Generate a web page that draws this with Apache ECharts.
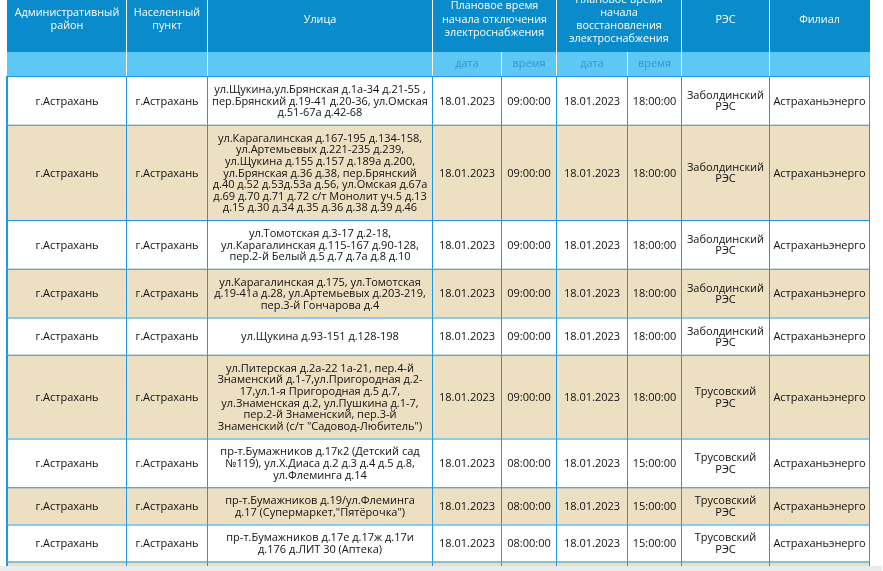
<!DOCTYPE html>
<html><head><meta charset="utf-8">
<script src="https://cdn.jsdelivr.net/npm/echarts@6/dist/echarts.min.js"></script>
<style>html,body{margin:0;padding:0;background:#fff;overflow:hidden}#c{width:883px;height:571px}</style>
</head><body><div id="c"></div>
<script>
// ---------- DATA ----------
const headerTop = ['Административный\nрайон', 'Населенный\nпункт', 'Улица',
  'Плановое время\nначала отключения\nэлектроснабжения',
  'Плановое время\nначала\nвосстановления\nэлектроснабжения', 'РЭС', 'Филиал'];
const headerSub = ['', '', '', 'дата', 'время', 'дата', 'время', '', ''];

const districts = ['г.Астрахань','г.Астрахань','г.Астрахань','г.Астрахань','г.Астрахань','г.Астрахань','г.Астрахань','г.Астрахань','г.Астрахань',''];
const settlements = ['г.Астрахань','г.Астрахань','г.Астрахань','г.Астрахань','г.Астрахань','г.Астрахань','г.Астрахань','г.Астрахань','г.Астрахань',''];
const streets = [
  'ул.Щукина,ул.Брянская д.1а-34 д.21-55 ,\nпер.Брянский д.19-41 д.20-36, ул.Омская\nд.51-67а д.42-68',
  'ул.Карагалинская д.167-195 д.134-158,\nул.Артемьевых д.221-235 д.239,\nул.Щукина д.155 д.157 д.189а д.200,\nул.Брянская д.36 д.38, пер.Брянский\nд.40 д.52 д.53д.53а д.56, ул.Омская д.67а\nд.69 д.70 д.71 д.72 с/т Монолит уч.5 д.13\nд.15 д.30 д.34 д.35 д.36 д.38 д.39 д.46',
  'ул.Томотская д.3-17 д.2-18,\nул.Карагалинская д.115-167 д.90-128,\nпер.2-й Белый д.5 д.7 д.7а д.8 д.10',
  'ул.Карагалинская д.175, ул.Томотская\nд.19-41а д.28, ул.Артемьевых д.203-219,\nпер.3-й Гончарова д.4',
  'ул.Щукина д.93-151 д.128-198',
  'ул.Питерская д.2а-22 1а-21, пер.4-й\nЗнаменский д.1-7,ул.Пригородная д.2-\n17,ул.1-я Пригородная д.5 д.7,\nул.Знаменская д.2, ул.Пушкина д.1-7,\nпер.2-й Знаменский, пер.3-й\nЗнаменский (с/т "Садовод-Любитель")',
  'пр-т.Бумажников д.17к2 (Детский сад\n№119), ул.Х.Диаса д.2 д.3 д.4 д.5 д.8,\nул.Флеминга д.14',
  'пр-т.Бумажников д.19/ул.Флеминга\nд.17 (Супермаркет,"Пятёрочка")',
  'пр-т.Бумажников д.17е д.17ж д.17и\nд.176 д.ЛИТ 30 (Аптека)',
  '\n\n'
];
const offDates = ['18.01.2023','18.01.2023','18.01.2023','18.01.2023','18.01.2023','18.01.2023','18.01.2023','18.01.2023','18.01.2023',''];
const offTimes = ['09:00:00','09:00:00','09:00:00','09:00:00','09:00:00','09:00:00','08:00:00','08:00:00','08:00:00',''];
const onDates  = ['18.01.2023','18.01.2023','18.01.2023','18.01.2023','18.01.2023','18.01.2023','18.01.2023','18.01.2023','18.01.2023',''];
const onTimes  = ['18:00:00','18:00:00','18:00:00','18:00:00','18:00:00','18:00:00','15:00:00','15:00:00','15:00:00',''];
const resNames = ['Заболдинский\nРЭС','Заболдинский\nРЭС','Заболдинский\nРЭС','Заболдинский\nРЭС','Заболдинский\nРЭС','Трусовский\nРЭС','Трусовский\nРЭС','Трусовский\nРЭС','Трусовский\nРЭС',''];
const branches = ['Астраханьэнерго','Астраханьэнерго','Астраханьэнерго','Астраханьэнерго','Астраханьэнерго','Астраханьэнерго','Астраханьэнерго','Астраханьэнерго','Астраханьэнерго',''];

// ---------- LAYOUT / STYLE ----------
const EDGES = [7, 126, 207, 432, 501, 556, 627, 681, 769, 869];
const HEAD_SPANS = [[0,1],[1,2],[2,3],[3,5],[5,7],[7,8],[8,9]];
const HEAD_TOP = 0, HEAD_MID = 52, HEAD_BOT = 76;
const LINE_H = 11.6, PAD = 14;
const C = {head:'#0a8bcb', sub:'#5dc8f5', subText:'#3595d0', beige:'#ecdfc2', border:'#1b9ae0', text:'#111111'};
const FONT = '"Open Sans", sans-serif';

const nRows = streets.length;
const cellsOf = i => [districts[i], settlements[i], streets[i], offDates[i], offTimes[i], onDates[i], onTimes[i], resNames[i], branches[i]];
const rowTops = [HEAD_BOT];
for (let i = 0; i < nRows; i++) {
  const lines = Math.max.apply(null, cellsOf(i).map(s => s.split('\n').length));
  rowTops.push(rowTops[i] + lines * LINE_H + PAD);
}

const chart = echarts.init(document.getElementById('c'), null, {renderer: 'canvas'});

function rect(api, x0, y0, x1, y1, fill) {
  const a = api.coord([x0, y0]), b = api.coord([x1, y1]);
  return {type:'rect', shape:{x:a[0], y:a[1], width:b[0]-a[0], height:b[1]-a[1]}, style:{fill}};
}
function txt(api, x, y, s, size, color, lh) {
  const p = api.coord([x, y]);
  return {type:'text', style:{text:s, x:p[0], y:p[1], align:'center', verticalAlign:'middle',
    fontSize:size, fontFamily:FONT, lineHeight:lh, fill:color}};
}

function renderHeader(params, api) {
  const ch = [];
  const L = EDGES[0], R = EDGES[EDGES.length-1];
  ch.push(rect(api, L, HEAD_TOP, R + 1, HEAD_MID, C.head));
  ch.push(rect(api, L, HEAD_MID, R + 1, HEAD_BOT, C.sub));
  HEAD_SPANS.forEach((sp, k) => {
    if (k > 0) ch.push(rect(api, EDGES[sp[0]], HEAD_TOP, EDGES[sp[0]] + 1, HEAD_MID, '#ffffff'));
    const cx = (EDGES[sp[0]] + EDGES[sp[1]]) / 2 + 0.5;
    ch.push(txt(api, cx, (HEAD_TOP + HEAD_MID) / 2 - 6.4, headerTop[k], 10.8, '#ffffff', 13.2));
  });
  for (let c = 1; c < EDGES.length - 1; c++) {
    ch.push(rect(api, EDGES[c], HEAD_MID, EDGES[c] + 1, HEAD_BOT, '#ffffff'));
  }
  headerSub.forEach((s, c) => {
    if (s) ch.push(txt(api, (EDGES[c] + EDGES[c+1]) / 2 + 0.5, (HEAD_MID + HEAD_BOT) / 2, s, 10.8, C.subText, 14));
  });
  return {type:'group', children: ch};
}

function renderRow(params, api) {
  const i = api.value(0);
  const top = rowTops[i], bot = rowTops[i+1];
  const L = EDGES[0], R = EDGES[EDGES.length-1];
  const ch = [];
  ch.push(rect(api, L, top, R, bot, i % 2 ? C.beige : '#ffffff'));
  ch.push(rect(api, L - 1, top, R + 1, top + 1, C.border));
  EDGES.forEach((e, k) => {
    ch.push(rect(api, k === 0 ? e - 1 : e, top, e + 1, bot, C.border));
  });
  const cells = cellsOf(i);
  cells.forEach((s, c) => {
    if (!s.trim()) return;
    const cx = (EDGES[c] + EDGES[c+1]) / 2 + 0.5;
    ch.push(txt(api, cx, (top + bot) / 2 + 1, s, 11, C.text, LINE_H));
  });
  return {type:'group', children: ch};
}

chart.setOption({
  animation: false,
  grid: {left:0, right:0, top:0, bottom:0},
  xAxis: {type:'value', min:0, max:883, show:false},
  yAxis: {type:'value', min:0, max:571, inverse:true, show:false},
  graphic: [{type:'rect', left:0, bottom:0, z:100, shape:{width:882, height:5}, style:{fill:'#ebebeb'}}],
  series: [
    {type:'custom', clip:false, data: Array.from({length:nRows}, (_, i) => [i]), renderItem: renderRow, silent:true},
    {type:'custom', clip:false, data: [[0]], renderItem: renderHeader, silent:true}
  ]
});
</script></body></html>
